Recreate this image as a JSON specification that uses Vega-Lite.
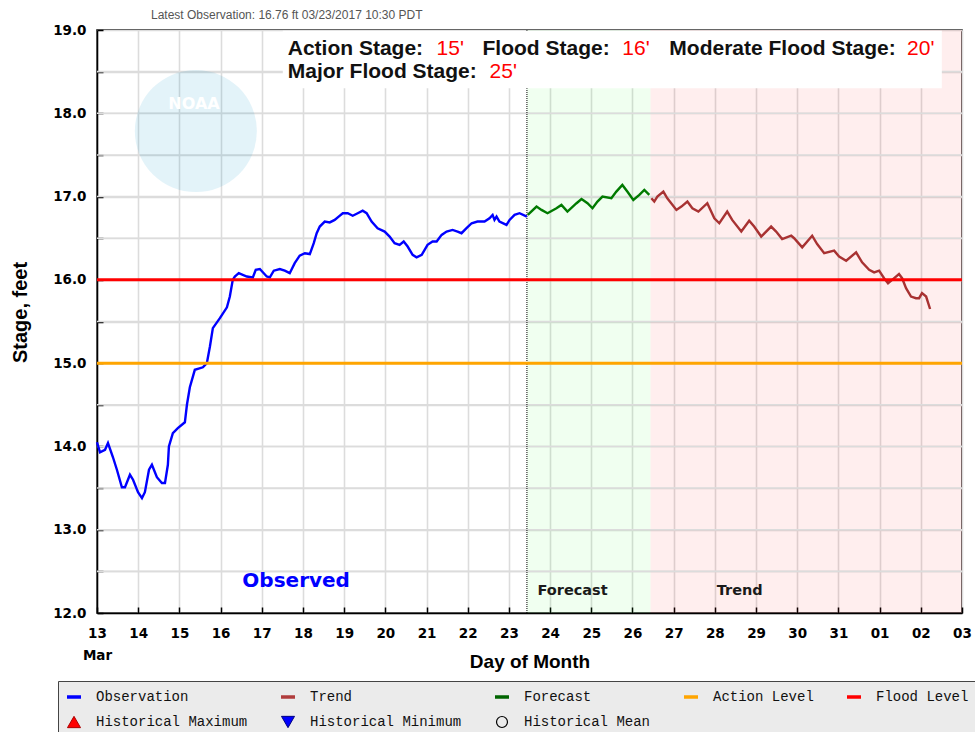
{
  "$schema": "https://vega.github.io/schema/vega-lite/v6.json",
  "width": 865,
  "height": 583,
  "autosize": {"type": "none"},
  "padding": {"left": 97, "top": 30, "right": 13, "bottom": 119},
  "background": "white",
  "title": {"text": "Latest Observation: 16.76 ft 03/23/2017 10:30 PDT", "anchor": "start", "frame": "group", "dx": 54, "offset": 1, "font": "Liberation Sans", "fontSize": 12, "fontWeight": "normal", "color": "#555555"},
  "config": {
    "view": {"stroke": "#000000", "strokeWidth": 1.5},
    "scale": {"zero": false},
    "axis": {
      "domainColor": "#000000", "domainWidth": 1.5,
      "tickColor": "#000000", "tickWidth": 1.5, "tickSize": -6,
      "grid": true, "gridColor": "#dcdcdc", "gridWidth": 1.6,
      "labelFont": "DejaVu Sans", "labelFontWeight": "bold", "labelFontSize": 13.5, "labelColor": "#000000",
      "titleFont": "Liberation Sans", "titleFontWeight": "bold", "titleFontSize": 19, "titleColor": "#000000"
    },
    "legend": {
      "orient": "none", "legendX": -39, "legendY": 651, "direction": "horizontal", "columns": 5, "gridAlign": "each",
      "columnPadding": 26, "rowPadding": 10, "padding": 9, "fillColor": "#ebebeb", "strokeColor": "#444444",
      "labelFont": "Liberation Mono", "labelFontSize": 14, "labelColor": "#111111", "labelLimit": 300, "labelOffset": 15,
      "symbolSize": 196, "symbolStrokeWidth": 3
    }
  },
  "datasets": {
    "gridY": [
      {"g": 12.5}, {"g": 13}, {"g": 13.5}, {"g": 14}, {"g": 14.5}, {"g": 15}, {"g": 15.5}, {"g": 16},
      {"g": 16.5}, {"g": 17}, {"g": 17.5}, {"g": 18}, {"g": 18.5}
    ],
    "regions": [
      {"region": "Forecast", "start": "2017-03-23T10:30", "end": "2017-03-26T10:30"},
      {"region": "Trend", "start": "2017-03-26T10:30", "end": "2017-04-03T00:00"}
    ],
    "levels": [
      {"series": "Action Level", "stage": 15},
      {"series": "Flood Level", "stage": 16}
    ],
    "legendItems": [
      {"series": "Observation"}, {"series": "Trend"}, {"series": "Forecast"}, {"series": "Action Level"}, {"series": "Flood Level"},
      {"series": "Historical Maximum"}, {"series": "Historical Minimum"}, {"series": "Historical Mean"}
    ],
    "stage": [
      {"t": "2017-03-13T00:00", "stage": 14.05, "series": "Observation"},
      {"t": "2017-03-13T01:45", "stage": 13.93, "series": "Observation"},
      {"t": "2017-03-13T04:40", "stage": 13.96, "series": "Observation"},
      {"t": "2017-03-13T06:24", "stage": 14.04, "series": "Observation"},
      {"t": "2017-03-13T09:18", "stage": 13.87, "series": "Observation"},
      {"t": "2017-03-13T11:36", "stage": 13.72, "series": "Observation"},
      {"t": "2017-03-13T14:30", "stage": 13.51, "series": "Observation"},
      {"t": "2017-03-13T16:18", "stage": 13.51, "series": "Observation"},
      {"t": "2017-03-13T19:12", "stage": 13.66, "series": "Observation"},
      {"t": "2017-03-13T21:00", "stage": 13.60, "series": "Observation"},
      {"t": "2017-03-13T23:54", "stage": 13.45, "series": "Observation"},
      {"t": "2017-03-14T02:12", "stage": 13.38, "series": "Observation"},
      {"t": "2017-03-14T03:54", "stage": 13.45, "series": "Observation"},
      {"t": "2017-03-14T06:18", "stage": 13.72, "series": "Observation"},
      {"t": "2017-03-14T08:00", "stage": 13.78, "series": "Observation"},
      {"t": "2017-03-14T10:54", "stage": 13.63, "series": "Observation"},
      {"t": "2017-03-14T13:48", "stage": 13.56, "series": "Observation"},
      {"t": "2017-03-14T15:36", "stage": 13.56, "series": "Observation"},
      {"t": "2017-03-14T17:18", "stage": 13.78, "series": "Observation"},
      {"t": "2017-03-14T17:54", "stage": 14.00, "series": "Observation"},
      {"t": "2017-03-14T20:12", "stage": 14.16, "series": "Observation"},
      {"t": "2017-03-14T23:06", "stage": 14.22, "series": "Observation"},
      {"t": "2017-03-15T03:12", "stage": 14.29, "series": "Observation"},
      {"t": "2017-03-15T04:24", "stage": 14.50, "series": "Observation"},
      {"t": "2017-03-15T06:06", "stage": 14.71, "series": "Observation"},
      {"t": "2017-03-15T09:00", "stage": 14.92, "series": "Observation"},
      {"t": "2017-03-15T13:42", "stage": 14.95, "series": "Observation"},
      {"t": "2017-03-15T16:00", "stage": 15.00, "series": "Observation"},
      {"t": "2017-03-15T17:48", "stage": 15.20, "series": "Observation"},
      {"t": "2017-03-15T19:30", "stage": 15.42, "series": "Observation"},
      {"t": "2017-03-15T23:36", "stage": 15.54, "series": "Observation"},
      {"t": "2017-03-16T03:42", "stage": 15.67, "series": "Observation"},
      {"t": "2017-03-16T05:24", "stage": 15.80, "series": "Observation"},
      {"t": "2017-03-16T07:06", "stage": 16.00, "series": "Observation"},
      {"t": "2017-03-16T08:18", "stage": 16.04, "series": "Observation"},
      {"t": "2017-03-16T10:36", "stage": 16.08, "series": "Observation"},
      {"t": "2017-03-16T15:18", "stage": 16.04, "series": "Observation"},
      {"t": "2017-03-16T18:48", "stage": 16.03, "series": "Observation"},
      {"t": "2017-03-16T20:30", "stage": 16.12, "series": "Observation"},
      {"t": "2017-03-16T22:54", "stage": 16.13, "series": "Observation"},
      {"t": "2017-03-17T02:54", "stage": 16.04, "series": "Observation"},
      {"t": "2017-03-17T04:42", "stage": 16.03, "series": "Observation"},
      {"t": "2017-03-17T07:00", "stage": 16.11, "series": "Observation"},
      {"t": "2017-03-17T10:30", "stage": 16.13, "series": "Observation"},
      {"t": "2017-03-17T13:24", "stage": 16.11, "series": "Observation"},
      {"t": "2017-03-17T16:18", "stage": 16.08, "series": "Observation"},
      {"t": "2017-03-17T19:12", "stage": 16.20, "series": "Observation"},
      {"t": "2017-03-17T22:06", "stage": 16.29, "series": "Observation"},
      {"t": "2017-03-18T01:06", "stage": 16.32, "series": "Observation"},
      {"t": "2017-03-18T04:00", "stage": 16.31, "series": "Observation"},
      {"t": "2017-03-18T06:18", "stage": 16.44, "series": "Observation"},
      {"t": "2017-03-18T08:00", "stage": 16.56, "series": "Observation"},
      {"t": "2017-03-18T09:48", "stage": 16.64, "series": "Observation"},
      {"t": "2017-03-18T12:42", "stage": 16.70, "series": "Observation"},
      {"t": "2017-03-18T15:36", "stage": 16.69, "series": "Observation"},
      {"t": "2017-03-18T18:30", "stage": 16.72, "series": "Observation"},
      {"t": "2017-03-18T20:48", "stage": 16.76, "series": "Observation"},
      {"t": "2017-03-18T23:12", "stage": 16.80, "series": "Observation"},
      {"t": "2017-03-19T02:06", "stage": 16.80, "series": "Observation"},
      {"t": "2017-03-19T05:00", "stage": 16.77, "series": "Observation"},
      {"t": "2017-03-19T07:54", "stage": 16.80, "series": "Observation"},
      {"t": "2017-03-19T10:48", "stage": 16.83, "series": "Observation"},
      {"t": "2017-03-19T13:06", "stage": 16.80, "series": "Observation"},
      {"t": "2017-03-19T16:00", "stage": 16.70, "series": "Observation"},
      {"t": "2017-03-19T19:30", "stage": 16.62, "series": "Observation"},
      {"t": "2017-03-19T23:36", "stage": 16.58, "series": "Observation"},
      {"t": "2017-03-20T02:30", "stage": 16.52, "series": "Observation"},
      {"t": "2017-03-20T05:24", "stage": 16.44, "series": "Observation"},
      {"t": "2017-03-20T08:18", "stage": 16.42, "series": "Observation"},
      {"t": "2017-03-20T10:42", "stage": 16.46, "series": "Observation"},
      {"t": "2017-03-20T13:00", "stage": 16.40, "series": "Observation"},
      {"t": "2017-03-20T15:54", "stage": 16.30, "series": "Observation"},
      {"t": "2017-03-20T18:12", "stage": 16.27, "series": "Observation"},
      {"t": "2017-03-20T21:12", "stage": 16.30, "series": "Observation"},
      {"t": "2017-03-21T00:36", "stage": 16.42, "series": "Observation"},
      {"t": "2017-03-21T03:30", "stage": 16.46, "series": "Observation"},
      {"t": "2017-03-21T05:54", "stage": 16.46, "series": "Observation"},
      {"t": "2017-03-21T08:48", "stage": 16.54, "series": "Observation"},
      {"t": "2017-03-21T11:42", "stage": 16.58, "series": "Observation"},
      {"t": "2017-03-21T15:12", "stage": 16.60, "series": "Observation"},
      {"t": "2017-03-21T18:06", "stage": 16.58, "series": "Observation"},
      {"t": "2017-03-21T20:24", "stage": 16.56, "series": "Observation"},
      {"t": "2017-03-21T23:18", "stage": 16.62, "series": "Observation"},
      {"t": "2017-03-22T02:18", "stage": 16.68, "series": "Observation"},
      {"t": "2017-03-22T05:42", "stage": 16.70, "series": "Observation"},
      {"t": "2017-03-22T09:48", "stage": 16.70, "series": "Observation"},
      {"t": "2017-03-22T12:42", "stage": 16.74, "series": "Observation"},
      {"t": "2017-03-22T14:30", "stage": 16.78, "series": "Observation"},
      {"t": "2017-03-22T15:36", "stage": 16.72, "series": "Observation"},
      {"t": "2017-03-22T16:48", "stage": 16.76, "series": "Observation"},
      {"t": "2017-03-22T18:30", "stage": 16.70, "series": "Observation"},
      {"t": "2017-03-22T22:36", "stage": 16.66, "series": "Observation"},
      {"t": "2017-03-23T00:24", "stage": 16.72, "series": "Observation"},
      {"t": "2017-03-23T03:18", "stage": 16.78, "series": "Observation"},
      {"t": "2017-03-23T06:12", "stage": 16.80, "series": "Observation"},
      {"t": "2017-03-23T10:30", "stage": 16.76, "series": "Observation"},
      {"t": "2017-03-23T11:00", "stage": 16.78, "series": "Forecast"},
      {"t": "2017-03-23T16:06", "stage": 16.88, "series": "Forecast"},
      {"t": "2017-03-23T19:00", "stage": 16.84, "series": "Forecast"},
      {"t": "2017-03-23T22:30", "stage": 16.80, "series": "Forecast"},
      {"t": "2017-03-24T03:42", "stage": 16.86, "series": "Forecast"},
      {"t": "2017-03-24T06:36", "stage": 16.90, "series": "Forecast"},
      {"t": "2017-03-24T10:06", "stage": 16.82, "series": "Forecast"},
      {"t": "2017-03-24T15:24", "stage": 16.92, "series": "Forecast"},
      {"t": "2017-03-24T18:18", "stage": 16.97, "series": "Forecast"},
      {"t": "2017-03-24T21:48", "stage": 16.92, "series": "Forecast"},
      {"t": "2017-03-25T00:42", "stage": 16.86, "series": "Forecast"},
      {"t": "2017-03-25T03:36", "stage": 16.94, "series": "Forecast"},
      {"t": "2017-03-25T06:30", "stage": 17.00, "series": "Forecast"},
      {"t": "2017-03-25T11:42", "stage": 16.98, "series": "Forecast"},
      {"t": "2017-03-25T14:36", "stage": 17.06, "series": "Forecast"},
      {"t": "2017-03-25T18:06", "stage": 17.14, "series": "Forecast"},
      {"t": "2017-03-25T21:00", "stage": 17.06, "series": "Forecast"},
      {"t": "2017-03-26T00:30", "stage": 16.96, "series": "Forecast"},
      {"t": "2017-03-26T04:00", "stage": 17.02, "series": "Forecast"},
      {"t": "2017-03-26T06:54", "stage": 17.08, "series": "Forecast"},
      {"t": "2017-03-26T09:48", "stage": 17.02, "series": "Forecast"},
      {"t": "2017-03-26T11:00", "stage": 16.98, "series": "Trend"},
      {"t": "2017-03-26T12:42", "stage": 16.94, "series": "Trend"},
      {"t": "2017-03-26T14:30", "stage": 17.00, "series": "Trend"},
      {"t": "2017-03-26T18:00", "stage": 17.06, "series": "Trend"},
      {"t": "2017-03-26T20:18", "stage": 16.98, "series": "Trend"},
      {"t": "2017-03-27T01:36", "stage": 16.84, "series": "Trend"},
      {"t": "2017-03-27T04:30", "stage": 16.88, "series": "Trend"},
      {"t": "2017-03-27T08:00", "stage": 16.94, "series": "Trend"},
      {"t": "2017-03-27T10:54", "stage": 16.86, "series": "Trend"},
      {"t": "2017-03-27T14:24", "stage": 16.82, "series": "Trend"},
      {"t": "2017-03-27T19:36", "stage": 16.92, "series": "Trend"},
      {"t": "2017-03-27T23:42", "stage": 16.74, "series": "Trend"},
      {"t": "2017-03-28T02:36", "stage": 16.68, "series": "Trend"},
      {"t": "2017-03-28T07:12", "stage": 16.82, "series": "Trend"},
      {"t": "2017-03-28T10:06", "stage": 16.72, "series": "Trend"},
      {"t": "2017-03-28T15:24", "stage": 16.58, "series": "Trend"},
      {"t": "2017-03-28T20:00", "stage": 16.71, "series": "Trend"},
      {"t": "2017-03-28T22:54", "stage": 16.64, "series": "Trend"},
      {"t": "2017-03-29T03:00", "stage": 16.52, "series": "Trend"},
      {"t": "2017-03-29T08:48", "stage": 16.64, "series": "Trend"},
      {"t": "2017-03-29T11:42", "stage": 16.58, "series": "Trend"},
      {"t": "2017-03-29T15:12", "stage": 16.49, "series": "Trend"},
      {"t": "2017-03-29T20:30", "stage": 16.53, "series": "Trend"},
      {"t": "2017-03-29T22:12", "stage": 16.50, "series": "Trend"},
      {"t": "2017-03-30T02:54", "stage": 16.39, "series": "Trend"},
      {"t": "2017-03-30T08:42", "stage": 16.53, "series": "Trend"},
      {"t": "2017-03-30T11:36", "stage": 16.43, "series": "Trend"},
      {"t": "2017-03-30T15:42", "stage": 16.32, "series": "Trend"},
      {"t": "2017-03-30T21:30", "stage": 16.35, "series": "Trend"},
      {"t": "2017-03-31T00:24", "stage": 16.28, "series": "Trend"},
      {"t": "2017-03-31T04:30", "stage": 16.23, "series": "Trend"},
      {"t": "2017-03-31T10:18", "stage": 16.33, "series": "Trend"},
      {"t": "2017-03-31T13:48", "stage": 16.21, "series": "Trend"},
      {"t": "2017-03-31T17:54", "stage": 16.12, "series": "Trend"},
      {"t": "2017-03-31T20:48", "stage": 16.09, "series": "Trend"},
      {"t": "2017-03-31T23:42", "stage": 16.11, "series": "Trend"},
      {"t": "2017-04-01T02:36", "stage": 16.02, "series": "Trend"},
      {"t": "2017-04-01T04:54", "stage": 15.96, "series": "Trend"},
      {"t": "2017-04-01T07:18", "stage": 16.00, "series": "Trend"},
      {"t": "2017-04-01T11:18", "stage": 16.07, "series": "Trend"},
      {"t": "2017-04-01T13:06", "stage": 16.02, "series": "Trend"},
      {"t": "2017-04-01T15:24", "stage": 15.90, "series": "Trend"},
      {"t": "2017-04-01T18:18", "stage": 15.80, "series": "Trend"},
      {"t": "2017-04-01T21:12", "stage": 15.78, "series": "Trend"},
      {"t": "2017-04-01T23:00", "stage": 15.78, "series": "Trend"},
      {"t": "2017-04-02T00:42", "stage": 15.84, "series": "Trend"},
      {"t": "2017-04-02T03:06", "stage": 15.80, "series": "Trend"},
      {"t": "2017-04-02T05:24", "stage": 15.65, "series": "Trend"}
    ]
  },
  "layer": [
    {
      "data": {"name": "regions"},
      "transform": [{"filter": "datum.region === 'Forecast'"}],
      "mark": {"type": "rect", "fill": "#00ff00", "opacity": 0.06},
      "encoding": {
        "x": {"field": "start", "type": "temporal",
          "scale": {"domain": [{"year": 2017, "month": 3, "date": 13}, {"year": 2017, "month": 4, "date": 3}]},
          "axis": {"title": "Day of Month", "tickCount": {"interval": "day", "step": 1},
            "labelExpr": "month(datum.value) == 2 && date(datum.value) == 13 ? ['13', 'Mar'] : timeFormat(datum.value, '%d')",
            "labelPadding": 19, "labelLineHeight": 22, "labelOverlap": false, "labelFlush": false, "labelBound": false,
            "titleY": 48, "titleBaseline": "middle"}},
        "x2": {"field": "end"}
      }
    },
    {
      "data": {"name": "regions"},
      "transform": [{"filter": "datum.region === 'Trend'"}],
      "mark": {"type": "rect", "fill": "#ff0000", "opacity": 0.065},
      "encoding": {
        "x": {"field": "start", "type": "temporal"},
        "x2": {"field": "end"}
      }
    },
    {
      "data": {"name": "gridY"},
      "mark": {"type": "rule", "color": "#dcdcdc", "strokeWidth": 1.6},
      "encoding": {
        "y": {"field": "g", "type": "quantitative", "scale": {"domain": [12, 19]}}
      }
    },
    {
      "data": {"name": "regions"},
      "transform": [{"filter": "datum.region === 'Forecast'"}],
      "mark": {"type": "rule", "color": "#000000", "strokeWidth": 1, "strokeDash": [1, 1]},
      "encoding": {
        "x": {"field": "start", "type": "temporal"}
      }
    },
    {
      "data": {"name": "stage"},
      "mark": {"type": "line", "strokeWidth": 2.4},
      "encoding": {
        "x": {"field": "t", "type": "temporal"},
        "y": {"field": "stage", "type": "quantitative", "scale": {"domain": [12, 19]},
          "axis": {"title": "Stage, feet", "grid": true, "values": [12, 12.5, 13, 13.5, 14, 14.5, 15, 15.5, 16, 16.5, 17, 17.5, 18, 18.5, 19],
            "labelExpr": "datum.value % 1 === 0 ? format(datum.value, '.1f') : ''",
            "labelPadding": 17, "titleFontSize": 20, "titleX": -77, "titleY": 282, "titleAlign": "center", "titleBaseline": "middle"}},
        "color": {"field": "series", "type": "nominal", "legend": null,
          "scale": {"domain": ["Observation", "Forecast", "Trend", "Action Level", "Flood Level"], "range": ["#0000ff", "#007a00", "#a83232", "#ffa500", "#ff0000"]}}
      }
    },
    {
      "data": {"name": "levels"},
      "mark": {"type": "rule", "strokeWidth": 3},
      "encoding": {
        "y": {"field": "stage", "type": "quantitative", "scale": {"domain": [12, 19]}},
        "color": {"field": "series", "type": "nominal", "legend": null,
          "scale": {"domain": ["Observation", "Forecast", "Trend", "Action Level", "Flood Level"], "range": ["#0000ff", "#007a00", "#a83232", "#ffa500", "#ff0000"]}}
      }
    },
    {
      "data": {"values": [{}]},
      "mark": {"type": "point", "shape": "circle", "filled": true, "fill": "#0090c8", "opacity": 0.11, "size": 14900, "strokeWidth": 0},
      "encoding": {
        "x": {"datum": {"year": 2017, "month": 3, "date": 15, "hours": 9, "minutes": 36}, "type": "temporal"},
        "y": {"datum": 17.787, "type": "quantitative", "scale": {"domain": [12, 19]}}
      }
    },
    {
      "data": {"values": [{}]},
      "mark": {"type": "text", "text": "NOAA", "font": "DejaVu Sans", "fontWeight": "bold", "fontSize": 16, "color": "#ffffff", "baseline": "middle", "align": "center"},
      "encoding": {
        "x": {"datum": {"year": 2017, "month": 3, "date": 15, "hours": 8, "minutes": 30}, "type": "temporal"},
        "y": {"datum": 18.117, "type": "quantitative", "scale": {"domain": [12, 19]}}
      }
    },
    {
      "data": {"values": [{}]},
      "mark": {"type": "rect", "fill": "#ffffff"},
      "encoding": {
        "x": {"datum": {"year": 2017, "month": 3, "date": 17, "hours": 12, "minutes": 15}, "type": "temporal"},
        "x2": {"datum": {"year": 2017, "month": 4, "date": 2, "hours": 12, "minutes": 15}},
        "y": {"datum": 18.99, "type": "quantitative", "scale": {"domain": [12, 19]}},
        "y2": {"datum": 18.3}
      }
    },
    {
      "data": {"values": [{}]},
      "mark": {"type": "text", "text": "Observed", "font": "DejaVu Sans", "fontWeight": "bold", "fontSize": 20, "color": "#0000ff", "align": "left", "baseline": "alphabetic"},
      "encoding": {
        "x": {"datum": {"year": 2017, "month": 3, "date": 16, "hours": 12, "minutes": 41}, "type": "temporal"},
        "y": {"datum": 12.312, "type": "quantitative", "scale": {"domain": [12, 19]}}
      }
    },
    {
      "data": {"values": [{}]},
      "mark": {"type": "text", "text": "Forecast", "font": "DejaVu Sans", "fontWeight": "bold", "fontSize": 14.5, "color": "#1a1a1a", "align": "left", "baseline": "alphabetic"},
      "encoding": {
        "x": {"datum": {"year": 2017, "month": 3, "date": 23, "hours": 16, "minutes": 39}, "type": "temporal"},
        "y": {"datum": 12.216, "type": "quantitative", "scale": {"domain": [12, 19]}}
      }
    },
    {
      "data": {"values": [{}]},
      "mark": {"type": "text", "text": "Trend", "font": "DejaVu Sans", "fontWeight": "bold", "fontSize": 14.5, "color": "#1a1a1a", "align": "left", "baseline": "alphabetic"},
      "encoding": {
        "x": {"datum": {"year": 2017, "month": 3, "date": 28, "hours": 1, "minutes": 6}, "type": "temporal"},
        "y": {"datum": 12.216, "type": "quantitative", "scale": {"domain": [12, 19]}}
      }
    },
    {
      "data": {"values": [{}]},
      "mark": {"type": "text", "text": "Action Stage:", "font": "Liberation Sans", "fontWeight": "bold", "fontSize": 21, "color": "#111111", "align": "left", "baseline": "alphabetic"},
      "encoding": {
        "x": {"datum": {"year": 2017, "month": 3, "date": 17, "hours": 15, "minutes": 9}, "type": "temporal"},
        "y": {"datum": 18.70, "type": "quantitative", "scale": {"domain": [12, 19]}}
      }
    },
    {
      "data": {"values": [{}]},
      "mark": {"type": "text", "text": "15'", "font": "Liberation Sans", "fontWeight": "normal", "fontSize": 21, "color": "#ff0000", "align": "left", "baseline": "alphabetic"},
      "encoding": {
        "x": {"datum": {"year": 2017, "month": 3, "date": 21, "hours": 5, "minutes": 52}, "type": "temporal"},
        "y": {"datum": 18.70, "type": "quantitative", "scale": {"domain": [12, 19]}}
      }
    },
    {
      "data": {"values": [{}]},
      "mark": {"type": "text", "text": "Flood Stage:", "font": "Liberation Sans", "fontWeight": "bold", "fontSize": 21, "color": "#111111", "align": "left", "baseline": "alphabetic"},
      "encoding": {
        "x": {"datum": {"year": 2017, "month": 3, "date": 22, "hours": 8, "minutes": 38}, "type": "temporal"},
        "y": {"datum": 18.70, "type": "quantitative", "scale": {"domain": [12, 19]}}
      }
    },
    {
      "data": {"values": [{}]},
      "mark": {"type": "text", "text": "16'", "font": "Liberation Sans", "fontWeight": "normal", "fontSize": 21, "color": "#ff0000", "align": "left", "baseline": "alphabetic"},
      "encoding": {
        "x": {"datum": {"year": 2017, "month": 3, "date": 25, "hours": 18, "minutes": 6}, "type": "temporal"},
        "y": {"datum": 18.70, "type": "quantitative", "scale": {"domain": [12, 19]}}
      }
    },
    {
      "data": {"values": [{}]},
      "mark": {"type": "text", "text": "Moderate Flood Stage:", "font": "Liberation Sans", "fontWeight": "bold", "fontSize": 21, "color": "#111111", "align": "left", "baseline": "alphabetic"},
      "encoding": {
        "x": {"datum": {"year": 2017, "month": 3, "date": 26, "hours": 21, "minutes": 29}, "type": "temporal"},
        "y": {"datum": 18.70, "type": "quantitative", "scale": {"domain": [12, 19]}}
      }
    },
    {
      "data": {"values": [{}]},
      "mark": {"type": "text", "text": "20'", "font": "Liberation Sans", "fontWeight": "normal", "fontSize": 21, "color": "#ff0000", "align": "left", "baseline": "alphabetic"},
      "encoding": {
        "x": {"datum": {"year": 2017, "month": 4, "date": 1, "hours": 16, "minutes": 0}, "type": "temporal"},
        "y": {"datum": 18.70, "type": "quantitative", "scale": {"domain": [12, 19]}}
      }
    },
    {
      "data": {"values": [{}]},
      "mark": {"type": "text", "text": "Major Flood Stage:", "font": "Liberation Sans", "fontWeight": "bold", "fontSize": 21, "color": "#111111", "align": "left", "baseline": "alphabetic"},
      "encoding": {
        "x": {"datum": {"year": 2017, "month": 3, "date": 17, "hours": 15, "minutes": 9}, "type": "temporal"},
        "y": {"datum": 18.423, "type": "quantitative", "scale": {"domain": [12, 19]}}
      }
    },
    {
      "data": {"values": [{}]},
      "mark": {"type": "text", "text": "25'", "font": "Liberation Sans", "fontWeight": "normal", "fontSize": 21, "color": "#ff0000", "align": "left", "baseline": "alphabetic"},
      "encoding": {
        "x": {"datum": {"year": 2017, "month": 3, "date": 22, "hours": 12, "minutes": 43}, "type": "temporal"},
        "y": {"datum": 18.423, "type": "quantitative", "scale": {"domain": [12, 19]}}
      }
    },
    {
      "data": {"name": "legendItems"},
      "mark": {"type": "point", "filled": true, "opacity": 0},
      "encoding": {
        "fill": {"field": "series", "type": "nominal",
          "scale": {"domain": ["Observation", "Trend", "Forecast", "Action Level", "Flood Level", "Historical Maximum", "Historical Minimum", "Historical Mean"],
            "range": ["#0000ff", "#b03c3c", "#006400", "#ffa500", "#ff0000", "#ff0000", "#0000ff", "transparent"]},
          "legend": {"title": null, "encode": {"symbols": {"update": {"strokeWidth": {"signal": "datum.value === 'Historical Mean' ? 1.2 : (datum.value === 'Historical Maximum' || datum.value === 'Historical Minimum') ? 1 : 3.5"}, "size": {"signal": "datum.value === 'Historical Mean' ? 120 : (datum.value === 'Historical Maximum' || datum.value === 'Historical Minimum') ? 170 : 196"}}}}}},
        "stroke": {"field": "series", "type": "nominal",
          "scale": {"domain": ["Observation", "Trend", "Forecast", "Action Level", "Flood Level", "Historical Maximum", "Historical Minimum", "Historical Mean"],
            "range": ["#0000ff", "#b03c3c", "#006400", "#ffa500", "#ff0000", "#aa0000", "#000080", "#000000"]},
          "legend": {"title": null, "encode": {"symbols": {"update": {"strokeWidth": {"signal": "datum.value === 'Historical Mean' ? 1.2 : (datum.value === 'Historical Maximum' || datum.value === 'Historical Minimum') ? 1 : 3.5"}, "size": {"signal": "datum.value === 'Historical Mean' ? 120 : (datum.value === 'Historical Maximum' || datum.value === 'Historical Minimum') ? 170 : 196"}}}}}},
        "shape": {"field": "series", "type": "nominal",
          "scale": {"domain": ["Observation", "Trend", "Forecast", "Action Level", "Flood Level", "Historical Maximum", "Historical Minimum", "Historical Mean"],
            "range": ["stroke", "stroke", "stroke", "stroke", "stroke", "triangle-up", "triangle-down", "circle"]},
          "legend": {"title": null, "encode": {"symbols": {"update": {"strokeWidth": {"signal": "datum.value === 'Historical Mean' ? 1.2 : (datum.value === 'Historical Maximum' || datum.value === 'Historical Minimum') ? 1 : 3.5"}, "size": {"signal": "datum.value === 'Historical Mean' ? 120 : (datum.value === 'Historical Maximum' || datum.value === 'Historical Minimum') ? 170 : 196"}}}}}}
      }
    }
  ]
}
